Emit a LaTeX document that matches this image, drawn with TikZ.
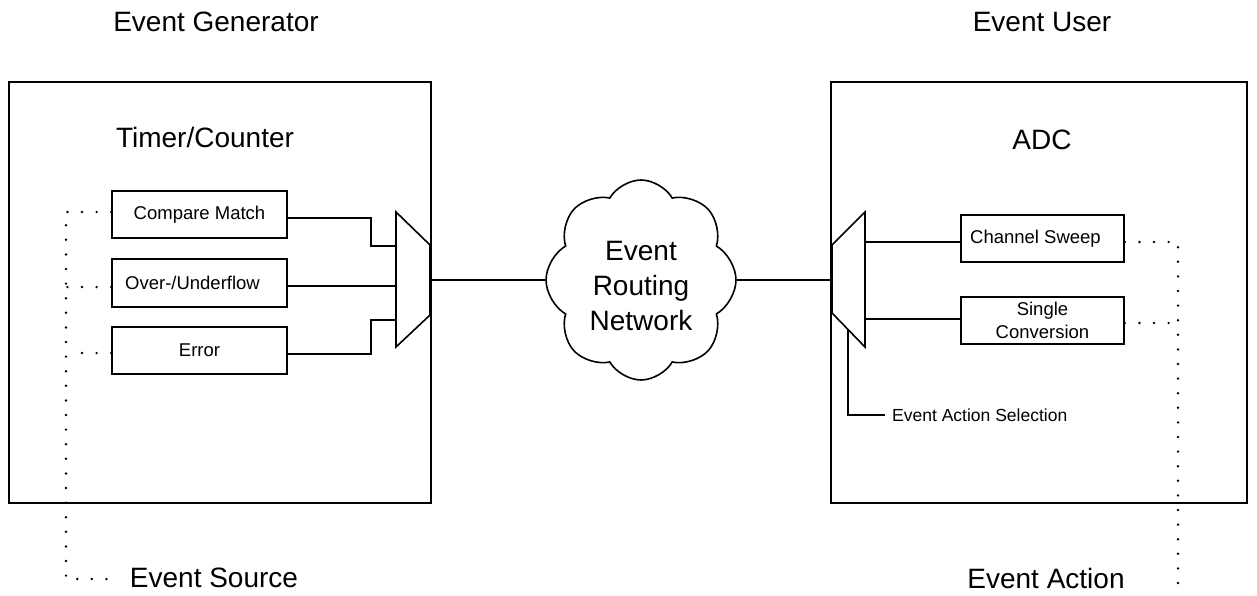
\documentclass[tikz,border=0pt]{standalone}
\usepackage{fontspec}
\setmainfont{Liberation Sans}
\usetikzlibrary{shapes.symbols}
\newcommand{\lblfont}{\fontsize{18.5}{23}\selectfont}
\newcommand{\ttlfont}{\fontsize{28}{36}\selectfont}
\begin{document}
\begin{tikzpicture}[x=1pt,y=-1pt,
  blk/.style={draw, line width=1.6pt},
  box/.style={draw, line width=1.6pt, minimum width=175pt, minimum height=47pt, inner sep=0pt, font=\lblfont, align=center},
  wire/.style={line width=1.6pt},
  dots/.style={line width=2.7pt, line cap=round, dash pattern=on 0pt off 14.6pt},
  ttl/.style={font=\ttlfont, inner sep=0pt},
  lbl/.style={font=\lblfont, inner sep=0pt}]
\useasboundingbox (0,0) rectangle (1257,596);
% titles
\node[ttl] (tgen) at (216,22) {Event Generator};
\node[ttl] (tuser) at (1042,22) {Event User};
% outer boxes
\node[blk, minimum width=422pt, minimum height=421pt, inner sep=0pt] (gen) at (220,292.5) {};
\node[blk, minimum width=416pt, minimum height=421pt, inner sep=0pt] (user) at (1039,292.5) {};
\node[ttl] (tc) at (205,137.5) {Timer/Counter};
\node[ttl] (adc) at (1042,140) {ADC};
% left boxes
\node[box] (cm) at (199.5,214.5) {Compare Match};
\node[box, minimum height=48pt] (ovf) at (199.5,283) {\hspace*{-14pt}Over-/Underflow};
\node[box] (err) at (199.5,350.5) {Error};
% left mux
\coordinate (lm1) at (396,212);
\coordinate (lm2) at (430,245);
\coordinate (lm3) at (430,315);
\coordinate (lm4) at (396,347);
\draw[wire, line join=miter] (lm1) -- (lm2) -- (lm3) -- (lm4) -- cycle;
\coordinate (lin1) at (396,246);
\coordinate (lin2) at (396,286);
\coordinate (lin3) at (396,320);
\coordinate (lout) at (430,280);
\draw[wire] (cm.east |- 0,218) -| (371,246) -- (lin1);
\draw[wire] (ovf.east |- 0,286) -- (lin2);
\draw[wire] (err.east |- 0,354) -| (371,320) -- (lin3);
% cloud
\node[cloud, draw, line width=1.6pt, cloud puffs=8, cloud puff arc=120, aspect=0.95,
  minimum width=190pt, minimum height=200pt, inner sep=0pt] (net) at (641,280) {};
\node[font=\ttlfont, align=center, inner sep=0pt] (nett) at (641,286) {Event\\[-1pt]Routing\\[-1pt]Network};
\draw[wire] (lout) -- (net.west |- 0,280);
% right mux
\coordinate (rm1) at (865,212);
\coordinate (rm2) at (832,245);
\coordinate (rm3) at (832,313);
\coordinate (rm4) at (865,347);
\draw[wire, line join=miter] (rm1) -- (rm2) -- (rm3) -- (rm4) -- cycle;
\coordinate (rin) at (832,280);
\draw[wire] (net.east |- 0,280) -- (rin);
% right boxes
\node[box, minimum width=163pt] (cs) at (1042.5,238.5) {\hspace*{-14pt}Channel Sweep};
\node[box, minimum width=163pt] (sc) at (1042.5,320.5) {Single\\Conversion};
\draw[wire] (865,242) -- (cs.west |- 0,242);
\draw[wire] (865,319) -- (sc.west |- 0,319);
% event action selection
\coordinate (eas0) at (848,329.5);
\node[lbl, anchor=west] (eas) at (892,415) {\fontsize{17.5}{21}\selectfont Event Action Selection};
\draw[wire] (eas0) |- (885,415);
% bottom labels
\node[ttl] (esrc) at (214,578) {Event Source};
\node[ttl] (eact) at (1046,578) {Event Action};
% dotted left
\coordinate (dl0) at (66,212);
\coordinate (dl1) at (66,287);
\coordinate (dl2) at (70,353);
\coordinate (dlb) at (66,579);
\draw[dots] (cm.west |- 0,212) -- (dl0) -- (dlb) -- (110,579);
\draw[dots] (ovf.west |- 0,287) -- (dl1);
\draw[dots] (err.west |- 0,353) -- (dl2);
% dotted right
\coordinate (dr0) at (1178,242);
\coordinate (dr1) at (1178,323);
\coordinate (drb) at (1178,585);
\draw[dots] (cs.east |- 0,242) -- (dr0) -- (drb);
\draw[dots] (sc.east |- 0,323) -- (dr1);
\end{tikzpicture}
\end{document}
